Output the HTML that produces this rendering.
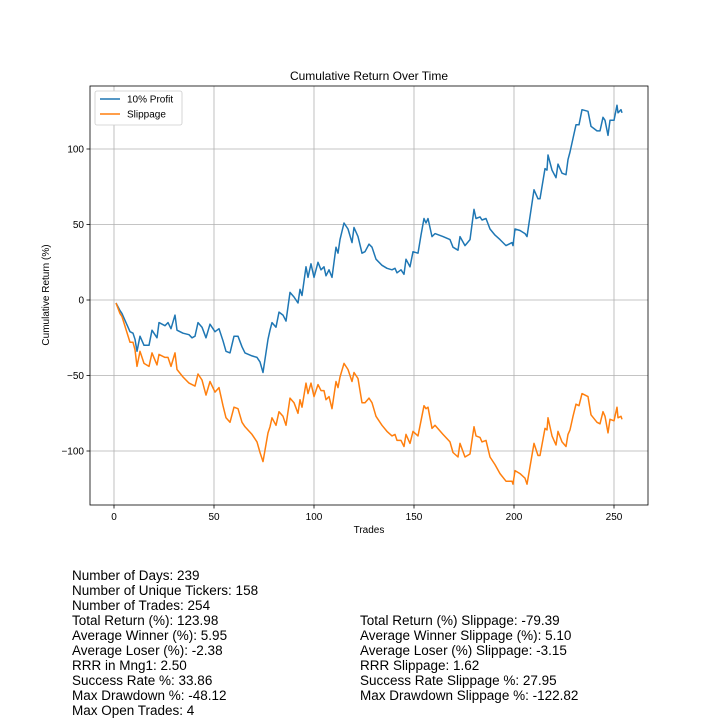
<!DOCTYPE html>
<html><head><meta charset="utf-8"><style>
body{margin:0;background:#fff;width:720px;height:720px;overflow:hidden;font-family:"Liberation Sans","DejaVu Sans",sans-serif}
.stats{position:absolute;font-size:13.5px;line-height:15px;color:#000;white-space:pre}
</style></head><body>
<svg id="chart" width="720" height="560" style="position:absolute;left:0;top:0" font-family="Liberation Sans, DejaVu Sans, sans-serif"></svg>
<div class="stats" style="left:72px;top:568px">Number of Days: 239
Number of Unique Tickers: 158
Number of Trades: 254
Total Return (%): 123.98
Average Winner (%): 5.95
Average Loser (%): -2.38
RRR in Mng1: 2.50
Success Rate %: 33.86
Max Drawdown %: -48.12
Max Open Trades: 4</div>
<div class="stats" style="left:360px;top:613px">Total Return (%) Slippage: -79.39
Average Winner Slippage (%): 5.10
Average Loser (%) Slippage: -3.15
RRR Slippage: 1.62
Success Rate Slippage %: 27.95
Max Drawdown Slippage %: -122.82</div>
<script>
const trades=[1,3,4,8,9.5,10.5,11.5,13,15,17.5,19,21.5,22.5,25.5,27,28.5,30.5,31.5,34.5,37.5,39,40.5,42,44,46,48,50.5,52.5,54.5,56,58,60,62,64,65.5,69,71.5,73,74.5,77,78,79,81,82.5,84.5,86,88,90,92,93,94,96,97,98.5,100,102,103.5,105,106,107.5,109,111,112,113,115,117,119,120,122,124,125.5,127.5,129,131,134,136.5,139,140.5,141.5,143.5,145,146,148,149.5,152,153.5,155,156,157,159,160.5,164.5,168,169.5,172,173,175.5,178,180,181,183,184,186,188,190.5,193,196,199,199.5,200.5,203,205.5,206.5,210,212,213,215.5,216.5,217,219,221,222,224,226,227,228,229.5,231,232.5,234,237,238.5,241.5,243,244.5,245.5,247,248,250,251.5,252,253.5,254];
const profit=[-2,-7,-9,-21,-22,-26,-34,-24,-30,-30,-20,-25,-15,-17,-15,-19,-10,-20,-22,-23,-25,-24,-15,-18,-25,-16,-21,-19,-27,-34,-35,-24,-24,-31,-35,-37,-38,-41,-48,-26,-20,-15,-18,-8,-10,-14,5,2,-2,7,3,22,15,24,15,25,20,22,16,20,15,35,31,40,51,47,38,48,42,31,32,37,35,27,23,21,20,21,18,20,17,27,22,32,31,43,54,51,54,42,44,42,40,35,33,42,36,40,60,54,55,53,54,47,43,40,36,38,36,47,46,44,42,73,67,67,87,86,96,86,81,90,84,83,93,98,107,116,116,126,125,115,112,112,121,119,109,119,119,129,124,126,124];
const slippage=[-2,-9,-11,-28,-28,-33,-44,-34,-42,-44,-35,-43,-36,-38,-38,-44,-35,-46,-51,-55,-56,-57,-49,-53,-63,-54,-61,-58,-70,-78,-81,-71,-72,-81,-84,-89,-94,-101,-107,-88,-84,-78,-83,-74,-77,-83,-65,-68,-75,-66,-71,-55,-62,-55,-64,-56,-60,-60,-66,-64,-72,-54,-58,-51,-42,-46,-54,-48,-52,-68,-68,-65,-68,-77,-83,-87,-90,-89,-93,-93,-97,-89,-95,-87,-90,-80,-70,-72,-71,-85,-83,-89,-94,-101,-104,-95,-104,-102,-84,-90,-91,-94,-93,-104,-109,-115,-120,-120,-122,-113,-115,-118,-122,-95,-103,-103,-85,-86,-78,-90,-96,-87,-94,-97,-89,-86,-77,-69,-70,-62,-64,-76,-81,-82,-74,-77,-88,-79,-80,-71,-78,-77,-79];
const xTicks=[0,50,100,150,200,250];
const yTicks=[-100,-50,0,50,100];
const seriesNames=["10% Profit","Slippage"];

const NS="http://www.w3.org/2000/svg";
const svg=document.getElementById('chart');
const L=90,R=648,T=86,B=505;
function xs(t){return 114+2*t;}
function ys(v){return 300-1.51*v;}
function mk(tag,attrs,parent){const e=document.createElementNS(NS,tag);for(const k in attrs)e.setAttribute(k,attrs[k]);(parent||svg).appendChild(e);return e;}

const title=mk('text',{x:369,y:80,'text-anchor':'middle','font-size':12});


title.textContent='Cumulative Return Over Time';

xTicks.forEach(t=>{
  const g=mk('line',{x1:xs(t),x2:xs(t),y1:T,y2:B,stroke:'#b0b0b0','stroke-width':0.8});
  
  
  mk('line',{x1:xs(t),x2:xs(t),y1:B,y2:B+3.5,stroke:'#000','stroke-width':0.8});
  const lb=mk('text',{x:xs(t),y:B+15,'text-anchor':'middle','font-size':10});
  
  
  lb.textContent=t;
});
yTicks.forEach(v=>{
  const g=mk('line',{x1:L,x2:R,y1:ys(v),y2:ys(v),stroke:'#b0b0b0','stroke-width':0.8});
  
  
  mk('line',{x1:L-3.5,x2:L,y1:ys(v),y2:ys(v),stroke:'#000','stroke-width':0.8});
  const lb=mk('text',{x:L-6,y:ys(v)+3.5,'text-anchor':'end','font-size':10});
  
  
  lb.textContent=v<0?'\u2212'+Math.abs(v):v;
});

function line(vals,color,name){
  const d=trades.map((t,i)=>(i?'L':'M')+xs(t).toFixed(1)+','+ys(vals[i]).toFixed(1)).join(' ');
  const p=mk('path',{d:d,fill:'none',stroke:color,'stroke-width':1.5,'stroke-linejoin':'round'});
  
  
}
line(profit,'#1f77b4','profit-line');
line(slippage,'#ff7f0e','slippage-line');

const frame=mk('rect',{x:L,y:T,width:R-L,height:B-T,fill:'none',stroke:'#000','stroke-width':0.8});



const xl=mk('text',{x:369,y:533,'text-anchor':'middle','font-size':10});


xl.textContent='Trades';
const yl=mk('text',{x:49,y:295,'text-anchor':'middle','font-size':10,transform:'rotate(-90 49 295)'});


yl.textContent='Cumulative Return (%)';

const lg=mk('rect',{x:95,y:91,width:87,height:34,fill:'#fff',stroke:'#ccc','stroke-width':0.8,rx:2});


const colors=['#1f77b4','#ff7f0e'];
seriesNames.forEach((n,i)=>{
  const y=99+i*15;
  const s=mk('line',{x1:100,x2:120,y1:y,y2:y,stroke:colors[i],'stroke-width':1.5});
  
  
  const t=mk('text',{x:127,y:y+3.5,'font-size':10});
  
  
  t.textContent=n;
});
</script>
</body></html>
